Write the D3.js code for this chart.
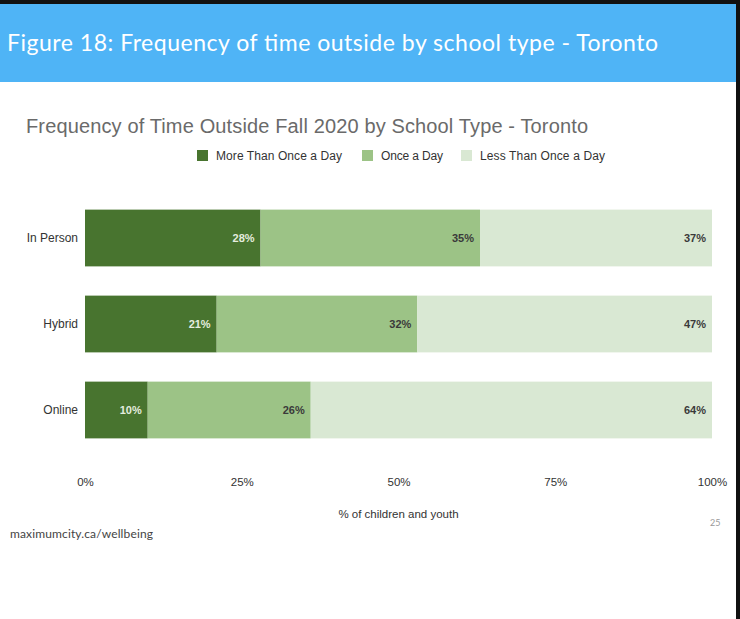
<!DOCTYPE html>
<html>
<head>
<meta charset="utf-8">
<script src="https://cdn.jsdelivr.net/npm/d3@7"></script>
<style>
  body { margin: 0; background: #fff; }
  svg { display: block; }
</style>
</head>
<body>
<svg id="chart" width="740" height="619"></svg>
<script>
const schoolTypes = ['In Person', 'Hybrid', 'Online'];
const seriesNames = ['More Than Once a Day', 'Once a Day', 'Less Than Once a Day'];
const moreThanOnce = [28, 21, 10];
const onceADay = [35, 32, 26];
const lessThanOnce = [37, 47, 64];
const tickValues = [0, 25, 50, 75, 100];

const colors = ['#48742f', '#9cc386', '#d9e8d3'];
const labelColors = ['#e4ecdf', '#3a3a3a', '#3a3a3a'];

const svg = d3.select('#chart');
const W = 740, H = 619;

// Slide header
svg.append('rect').attr('x', 0).attr('y', 0).attr('width', W).attr('height', H).attr('fill', '#fff');
svg.append('rect').attr('x', 0).attr('y', 0).attr('width', W).attr('height', 82).attr('fill', '#4fb4f6');
svg.append('rect').attr('x', 0).attr('y', 0).attr('width', W).attr('height', 4).attr('fill', '#111');
svg.append('rect').attr('x', 736).attr('y', 0).attr('width', 4).attr('height', H).attr('fill', '#111');
svg.append('text')
  .attr('x', 7).attr('y', 51)
  .attr('fill', '#fff')
  .attr('font-family', 'Lato, "Open Sans", sans-serif')
  .attr('font-size', 23)
  .attr('textLength', 651)
  .text('Figure 18: Frequency of time outside by school type - Toronto');

// Chart title
svg.append('text')
  .attr('x', 26).attr('y', 133)
  .attr('fill', '#6a6a6a')
  .attr('font-family', '"Liberation Sans", Arial, sans-serif')
  .attr('font-size', 20)
  .attr('textLength', 562)
  .text('Frequency of Time Outside Fall 2020 by School Type - Toronto');

// Legend
const legendX = [197, 362, 461];
seriesNames.forEach((name, i) => {
  const g = svg.append('g').attr('transform', `translate(${legendX[i]},150)`);
  g.append('rect').attr('width', 11).attr('height', 11).attr('fill', colors[i]);
  g.append('text')
    .attr('x', 19).attr('y', 10)
    .attr('fill', '#333')
    .attr('font-family', '"Liberation Sans", Arial, sans-serif')
    .attr('font-size', 12)
    .attr('textLength', [126, 62, 125][i])
    .text(name);
});

// Scales
const x = d3.scaleLinear().domain([0, 100]).range([85, 712]);
const y = d3.scaleBand().domain(schoolTypes).range([195, 453]).paddingInner(0.34).paddingOuter(0.17);

const rows = schoolTypes.map((s, i) => {
  const vals = [moreThanOnce[i], onceADay[i], lessThanOnce[i]];
  let acc = 0;
  return vals.map((v, k) => {
    const seg = { type: s, k, v, x0: acc, x1: acc + v };
    acc += v;
    return seg;
  });
}).flat();

const plot = svg.append('g');

plot.selectAll('rect.seg')
  .data(rows)
  .enter()
  .append('rect')
  .attr('class', 'seg')
  .attr('x', d => x(d.x0))
  .attr('y', d => y(d.type))
  .attr('width', d => x(d.x1) - x(d.x0))
  .attr('height', y.bandwidth())
  .attr('fill', d => colors[d.k]);

plot.selectAll('text.val')
  .data(rows)
  .enter()
  .append('text')
  .attr('class', 'val')
  .attr('x', d => x(d.x1) - 6)
  .attr('y', d => y(d.type) + y.bandwidth() / 2 + 4)
  .attr('text-anchor', 'end')
  .attr('fill', d => labelColors[d.k])
  .attr('font-family', '"Liberation Sans", Arial, sans-serif')
  .attr('font-size', 11)
  .attr('font-weight', 'bold')
  .text(d => d.v + '%');

// Y axis labels
const yAxis = svg.append('g')
  .attr('transform', `translate(${x(0)},0)`)
  .call(d3.axisLeft(y).tickSize(0).tickPadding(7));
yAxis.select('.domain').remove();
yAxis.selectAll('text')
  .attr('fill', '#333')
  .attr('font-family', '"Liberation Sans", Arial, sans-serif')
  .attr('font-size', 12);

// X axis
const xAxis = svg.append('g')
  .attr('transform', 'translate(0,470)')
  .call(d3.axisBottom(x).tickValues(tickValues).tickSize(0).tickPadding(8).tickFormat(d => d + '%'));
xAxis.select('.domain').remove();
xAxis.selectAll('text')
  .attr('fill', '#333')
  .attr('font-family', '"Liberation Sans", Arial, sans-serif')
  .attr('font-size', 11.5);

svg.append('text')
  .attr('x', x(50)).attr('y', 518)
  .attr('text-anchor', 'middle')
  .attr('fill', '#333')
  .attr('font-family', '"Liberation Sans", Arial, sans-serif')
  .attr('font-size', 11.5)
  .text('% of children and youth');

// Footer
svg.append('text')
  .attr('x', 10).attr('y', 538)
  .attr('fill', '#444')
  .attr('font-family', 'Lato, "Open Sans", sans-serif')
  .attr('font-size', 12)
  .attr('textLength', 143)
  .text('maximumcity.ca/wellbeing');

svg.append('text')
  .attr('x', 710).attr('y', 526)
  .attr('fill', '#999')
  .attr('font-family', 'Lato, "Open Sans", sans-serif')
  .attr('font-size', 9)
  .text('25');
</script>
</body>
</html>
